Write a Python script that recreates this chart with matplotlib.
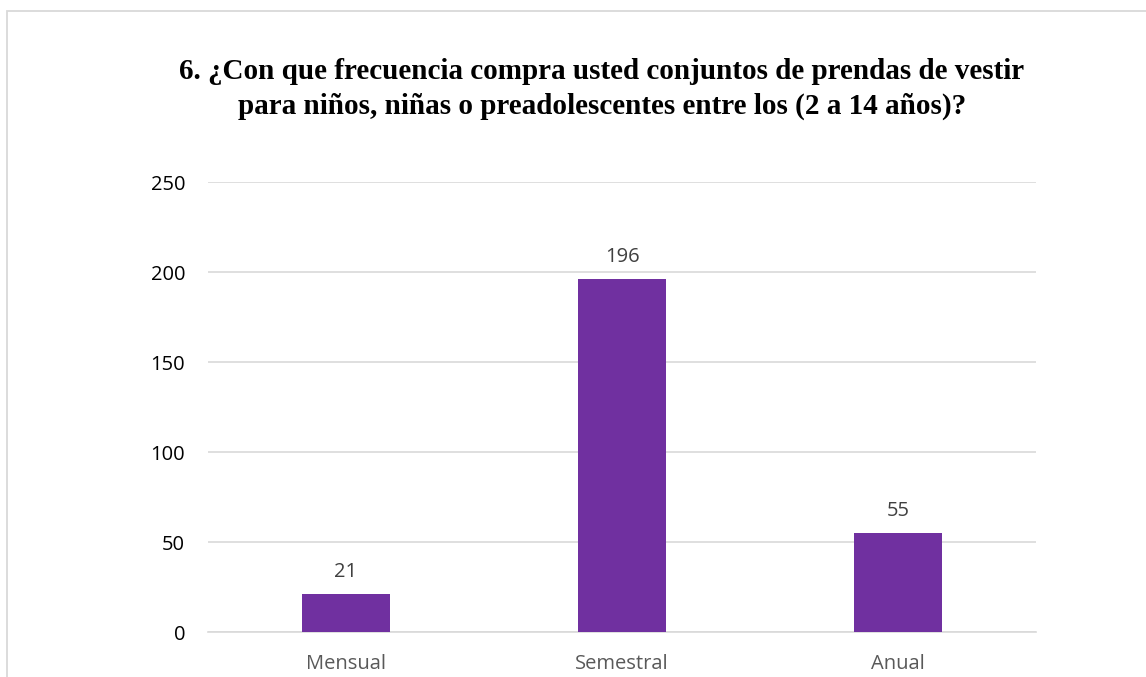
import matplotlib
matplotlib.use("Agg")
import matplotlib.pyplot as plt
from matplotlib.patches import Rectangle

categories = ["Mensual", "Semestral", "Anual"]
values = [21, 196, 55]
yticks = [0, 50, 100, 150, 200, 250]
title = ("6. ¿Con que frecuencia compra usted conjuntos de prendas de vestir\n"
         "para niños, niñas o preadolescentes entre los (2 a 14 años)?")

W, H = 1146, 677
fig = plt.figure(figsize=(W / 100, H / 100), dpi=100)
fig.patch.set_facecolor("white")

# outer chart frame (runs off the right and bottom edges)
fig.patches.append(Rectangle((7 / W, -0.1), 1.2, (H - 11) / H + 0.1,
                             transform=fig.transFigure, fill=False,
                             edgecolor="#D9D9D9", linewidth=1.3))

left, right = 208, 1036
top, bottom = 182, 632
ax = fig.add_axes([left / W, 1 - bottom / H, (right - left) / W, (bottom - top) / H])

x = range(len(categories))
bars = ax.bar(x, values, width=0.32, color="#7030A0", zorder=3)
ax.set_xlim(-0.5, len(categories) - 0.5)
ax.set_ylim(0, 250)
ax.set_yticks(yticks)
ax.set_xticks(list(x))
ax.set_xticklabels(categories)

for s in ["top", "right", "left"]:
    ax.spines[s].set_visible(False)
ax.spines["bottom"].set_color("#D9D9D9")
ax.spines["bottom"].set_linewidth(1.2)
ax.yaxis.grid(True, color="#D9D9D9", linewidth=1.2, zorder=0)
ax.tick_params(axis="both", length=0)
ax.tick_params(axis="y", pad=16.5, labelsize=14.5, labelcolor="#000000")
ax.tick_params(axis="x", pad=16, labelsize=14.5, labelcolor="#595959")
for lab in ax.get_xticklabels() + ax.get_yticklabels():
    lab.set_fontfamily("Open Sans")

for xi, v in zip(x, values):
    ax.annotate(str(v), (xi, v), xytext=(0, 9), textcoords="offset points",
                ha="center", va="bottom", fontsize=14.5, color="#404040",
                family="Open Sans")

fig.text(602 / W, 1 - 89 / H, title, ha="center", va="center",
         fontsize=21, fontweight="bold", family="Liberation Serif",
         linespacing=1.35, color="#000000")

fig.savefig("out.png", dpi=100, facecolor="white")
